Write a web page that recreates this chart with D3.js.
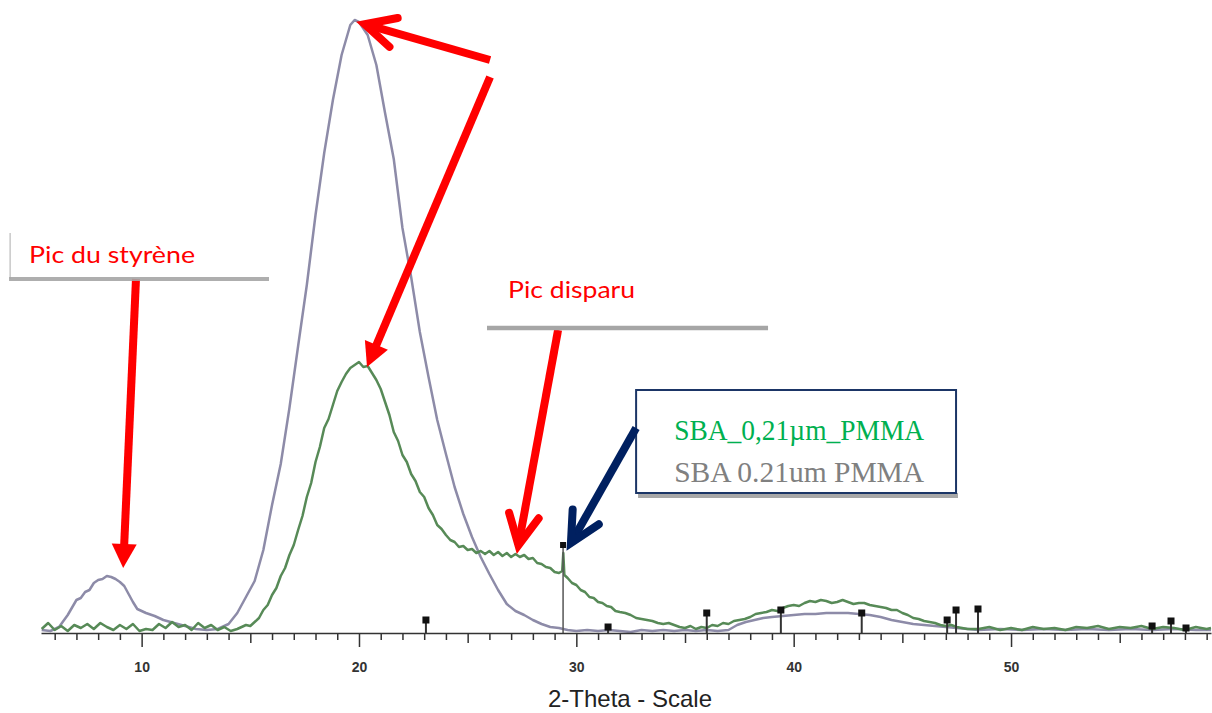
<!DOCTYPE html>
<html><head><meta charset="utf-8">
<script src="https://cdn.jsdelivr.net/npm/d3@7"></script>
<style>html,body{margin:0;padding:0;background:#fff;} svg{display:block}</style>
</head><body>
<svg id="c" width="1212" height="713"></svg>
<script>
// ---- data (2-Theta in degrees, intensity in arbitrary counts) ----
const grayTheta  = [5.4,5.8,6.2,6.6,7.0,7.2,7.4,7.6,7.8,8.0,8.2,8.4,8.6,8.8,9.0,9.2,9.4,9.6,9.8,10.0,10.2,10.6,11.0,11.5,12.0,12.5,13.0,13.5,14.0,14.4,14.8,15.2,15.6,16.0,16.4,16.8,17.2,17.6,18.0,18.4,18.8,19.2,19.6,19.8,20.0,20.4,20.8,21.2,21.6,22.0,22.4,22.8,23.2,23.6,24.0,24.4,24.8,25.2,25.6,26.0,26.4,26.8,27.2,27.6,28.0,28.4,28.8,29.2,29.6,30.0,30.5,31.0,31.5,32.0,32.5,33.0,33.5,34.0,34.5,35.0,35.5,36.0,36.5,37.0,37.4,37.8,38.2,38.6,39.0,39.5,40.0,40.5,41.0,41.5,42.0,42.5,43.0,43.5,44.0,44.5,45.0,45.5,46.0,46.5,47.0,47.5,48.0,48.5,49.5,50.5,51.5,52.5,53.5,54.5,55.5,56.5,57.5,58.5,59.2];
const grayCounts = [3,2,6,18,33,35,41,43,50,53,54,57,56,54,51,47,39,31,24,22,20,17,13,10,7,4,3,4,9,20,36,52,83,128,169,225,287,348,418,480,533,578,608,613,611,598,568,520,474,405,356,301,256,213,179,146,119,96,76,59,43,29,22,18,13,9,6,5,3,2,3,2,3,2,1,3,2,3,2,3,2,3,2,3,8,11,13,15,16,17,18,19,19,20,20,20,19,18,16,13,11,9,8,7,6,5,4,3,4,3,4,3,4,3,4,3,4,3,3];

const greenTheta  = [5.4,5.7,6.0,6.3,6.6,6.9,7.2,7.5,7.8,8.1,8.4,8.7,9.0,9.3,9.6,9.9,10.2,10.5,10.8,11.1,11.4,11.7,12.0,12.3,12.6,12.9,13.2,13.5,13.8,14.1,14.4,14.8,15.0,15.2,15.4,15.6,15.8,16.0,16.2,16.4,16.6,16.8,17.0,17.2,17.4,17.6,17.8,18.0,18.2,18.4,18.6,18.8,19.0,19.2,19.4,19.6,19.8,20.0,20.2,20.4,20.6,20.8,21.0,21.2,21.4,21.6,21.8,22.0,22.2,22.4,22.6,22.8,23.0,23.2,23.4,23.6,23.8,24.0,24.2,24.4,24.6,24.8,25.0,25.2,25.4,25.6,25.8,26.0,26.2,26.4,26.6,26.8,27.0,27.2,27.4,27.6,27.8,28.0,28.2,28.4,28.6,28.8,29.0,29.2,29.35,29.4,29.45,29.6,29.8,30.0,30.2,30.4,30.6,30.8,31.0,31.2,31.4,31.6,31.8,32.0,32.25,32.5,32.75,33.0,33.25,33.5,33.75,34.0,34.25,34.5,34.75,35.0,35.25,35.5,35.75,36.0,36.25,36.5,36.75,37.0,37.25,37.5,37.75,38.0,38.25,38.5,38.75,39.0,39.25,39.5,39.75,40.0,40.25,40.5,40.75,41.0,41.25,41.5,41.75,42.0,42.25,42.5,42.75,43.0,43.25,43.5,43.75,44.0,44.25,44.5,44.75,45.0,45.25,45.5,45.75,46.0,46.25,46.5,46.75,47.0,47.25,47.5,47.75,48.0,48.5,49.0,49.5,50.0,50.5,51.0,51.5,52.0,52.5,53.0,53.5,54.0,54.5,55.0,55.5,56.0,56.5,57.0,57.5,58.0,58.5,59.0,59.2];
const greenCounts = [4,10,3,7,2,8,5,9,4,10,6,3,8,4,9,2,4,3,9,5,11,6,8,3,10,5,8,3,6,2,4,8,7,11,15,23,28,38,45,57,65,78,88,103,117,136,150,171,186,205,214,228,242,251,259,265,268,271,266,267,260,253,244,231,218,201,192,178,171,159,152,141,136,125,118,108,104,98,93,91,86,87,83,84,80,82,79,82,78,81,77,80,76,79,76,78,74,75,70,69,66,65,61,60,62,80,58,55,50,48,43,41,36,35,31,30,27,26,22,21,20,18,15,14,13,12,10,9,10,8,6,5,7,4,6,5,8,7,10,9,12,13,14,16,19,20,21,23,22,25,27,28,27,30,32,31,33,32,30,31,33,31,29,30,30,28,27,26,25,23,23,20,18,15,14,12,11,10,8,7,8,6,5,4,4,6,3,5,3,6,4,5,3,6,5,7,4,6,5,7,4,6,5,3,6,4,5];

// reference pattern sticks
const stickTheta  = [23.08,29.39,31.46,36.0,39.41,43.13,47.06,47.47,48.48,56.49,57.36,58.05];
const stickCounts = [13,88,6,20,23,20,13,23,24,7,12,5];

// axis ticks
const tickValues = d3.range(6, 60);
const tickLabels = [10,20,30,40,50];

// annotations (anchored in data units)
const arrowsRed = [
  {from:[26.03,573], to:[19.91,611], head:"open"},
  {from:[26.03,556], to:[20.37,266], head:"filled"},
  {from:[9.74,354],  to:[9.15,65],   head:"filled"},
  {from:[29.16,303], to:[27.27,80],  head:"open"}
];
const arrowNavy = {from:[32.75,205], to:[29.57,83], head:"open"};

// ---- drawing ----
const svg = d3.select("#c");
const x = d3.scaleLinear().domain([5.37, 59.2]).range([41, 1211]);
const y = d3.scaleLinear().domain([0, 620]).range([633, 13]);

const line = d3.line().x(d => x(d[0])).y(d => y(d[1]));
const grayData = grayTheta.map((t,i) => [t, grayCounts[i]]);
const greenData = greenTheta.map((t,i) => [t, greenCounts[i]]);

svg.append("path").datum(grayData).attr("d", line)
  .attr("fill","none").attr("stroke","#8d8ba8").attr("stroke-width",2.5).attr("stroke-linejoin","round");
svg.append("path").datum(greenData).attr("d", line)
  .attr("fill","none").attr("stroke","#578a57").attr("stroke-width",2.5).attr("stroke-linejoin","round");

// sticks
const sticks = svg.append("g");
stickTheta.forEach((t,i) => {
  const tall = stickCounts[i] > 50;
  sticks.append("line").attr("x1",x(t)).attr("x2",x(t)).attr("y1",y(0)).attr("y2",y(stickCounts[i]))
    .attr("stroke", tall ? "#555" : "#333").attr("stroke-width", tall ? 1.5 : 2);
  const s = tall ? 6 : 7;
  sticks.append("rect").attr("x",x(t)-s/2).attr("y",y(stickCounts[i])-s/2).attr("width",s).attr("height",s).attr("fill","#111");
});

// axis
const axis = d3.axisBottom(x).tickValues(tickValues).tickSize(7).tickSizeOuter(0)
  .tickFormat(d => tickLabels.includes(d) ? d : "");
const ag = svg.append("g").attr("transform",`translate(0,${y(0)})`).call(axis);
ag.select(".domain").attr("stroke","#333").attr("stroke-width",1.6);
ag.selectAll(".tick line").attr("stroke","#333").attr("stroke-width",1.5)
  .attr("y2", d => d % 10 === 0 ? 14 : (d % 5 === 0 ? 10 : 7));
ag.selectAll(".tick text").attr("y",39).attr("dy",0)
  .attr("font-family","Liberation Sans, Arial, sans-serif").attr("font-size",14).attr("font-weight","bold").attr("fill","#333");

svg.append("text").attr("x",630).attr("y",707).attr("text-anchor","middle")
  .attr("font-family","Liberation Sans, Arial, sans-serif").attr("font-size",24).attr("fill","#222")
  .text("2-Theta - Scale");

// annotation: Pic du styrène
svg.append("line").attr("x1",x(3.95)).attr("x2",x(3.95)).attr("y1",y(400)).attr("y2",y(354))
  .attr("stroke","#c8c8c8").attr("stroke-width",1.5);
svg.append("text").attr("x",x(4.82)).attr("y",y(370))
  .attr("font-family","Lato, Open Sans, sans-serif").attr("font-size",24).attr("fill","#ff0000")
  .attr("textLength",166).attr("lengthAdjust","spacingAndGlyphs").text("Pic du styrène");

// annotation: Pic disparu
svg.append("text").attr("x",x(26.86)).attr("y",y(335))
  .attr("font-family","Lato, Open Sans, sans-serif").attr("font-size",24).attr("fill","#ff0000")
  .attr("textLength",127).attr("lengthAdjust","spacingAndGlyphs").text("Pic disparu");

// arrows
function drawArrow(a, color) {
  const x1=x(a.from[0]), y1=y(a.from[1]), x2=x(a.to[0]), y2=y(a.to[1]);
  const dx=x2-x1, dy=y2-y1, len=Math.hypot(dx,dy), ux=dx/len, uy=dy/len, px=-uy, py=ux;
  const g = svg.append("g");
  if (a.head === "open") {
    const L=30, W=15, back=8;
    const tx=x2-ux*back, ty=y2-uy*back;
    g.append("line").attr("x1",x1).attr("y1",y1).attr("x2",tx).attr("y2",ty)
      .attr("stroke",color).attr("stroke-width",8);
    g.append("path").attr("d",`M${tx-ux*L+px*W},${ty-uy*L+py*W}L${tx},${ty}L${tx-ux*L-px*W},${ty-uy*L-py*W}`)
      .attr("fill","none").attr("stroke",color).attr("stroke-width",8)
      .attr("stroke-linejoin","miter").attr("stroke-miterlimit",10).attr("stroke-linecap","round");
  } else {
    const L=24, W=12.5;
    g.append("line").attr("x1",x1).attr("y1",y1).attr("x2",x2-ux*(L-2)).attr("y2",y2-uy*(L-2))
      .attr("stroke",color).attr("stroke-width",8);
    g.append("path").attr("d",`M${x2},${y2}L${x2-ux*L+px*W},${y2-uy*L+py*W}L${x2-ux*L-px*W},${y2-uy*L-py*W}Z`)
      .attr("fill",color);
  }
}
arrowsRed.forEach(a => drawArrow(a, "#ff0000"));

// gray underlines drawn over arrow starts
svg.append("line").attr("x1",x(3.90)).attr("x2",x(15.86)).attr("y1",y(354)).attr("y2",y(354))
  .attr("stroke","#a6a6a6").attr("stroke-width",4).attr("opacity",0.9);
svg.append("line").attr("x1",x(25.89)).attr("x2",x(38.82)).attr("y1",y(305)).attr("y2",y(305))
  .attr("stroke","#a6a6a6").attr("stroke-width",4.5);

// legend box
svg.append("rect").attr("x",x(32.84)).attr("y",y(140)).attr("width",x(47.56)-x(32.84)).attr("height",y(135)-y(140))
  .attr("fill","#a8a8a8");
svg.append("rect").attr("x",x(32.75)).attr("y",y(243)).attr("width",x(47.47)-x(32.75)).attr("height",y(140)-y(243))
  .attr("fill","#fff").attr("stroke","#1b3566").attr("stroke-width",2);
svg.append("text").attr("x",x(34.5)).attr("y",y(193))
  .attr("font-family","Liberation Serif, Times New Roman, serif").attr("font-size",29).attr("fill","#00b050")
  .attr("textLength",250).attr("lengthAdjust","spacingAndGlyphs").text("SBA_0,21µm_PMMA");
svg.append("text").attr("x",x(34.5)).attr("y",y(151))
  .attr("font-family","Liberation Serif, Times New Roman, serif").attr("font-size",29).attr("fill","#808080")
  .attr("textLength",250).attr("lengthAdjust","spacingAndGlyphs").text("SBA 0.21um PMMA");

drawArrow(arrowNavy, "#002060");
</script>
</body></html>
